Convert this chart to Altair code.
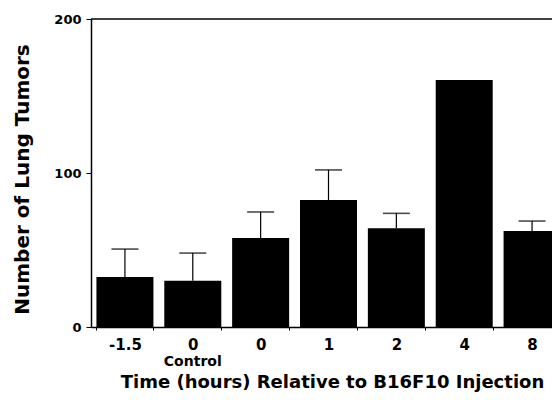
import altair as alt
import pandas as pd

# Data
categories = ["-1.5", "0 Control", "0", "1", "2", "4", "8"]
tick_labels = ["-1.5", "0", "0", "1", "2", "4", "8"]
means = [32.5, 30.0, 57.8, 82.5, 64.2, 160.4, 62.3]
uppers = [50.6, 48.0, 74.7, 102.0, 73.8, 160.4, 68.8]
sub_labels = ["", "Control", "", "", "", "", ""]
y_max = 200

df = pd.DataFrame({
    "cat": categories,
    "tick": tick_labels,
    "mean": means,
    "upper": uppers,
    "sub": sub_labels,
})

FONT = "DejaVu Sans"

x_scale = alt.Scale(paddingInner=0.16, paddingOuter=0.08, range=[0, 475])

x_enc = alt.X(
    "cat:N",
    sort=categories,
    scale=x_scale,
    axis=alt.Axis(
        title="Time (hours) Relative to B16F10 Injection",
        labelExpr="split(datum.label, ' ')[0]",
        labelAngle=0,
        labelFont=FONT,
        labelFontWeight="bold",
        labelFontSize=15,
        labelColor="black",
        labelBaseline="alphabetic",
        labelPadding=19,
        tickBand="extent",
        tickSize=3,
        tickColor="black",
        domainColor="black",
        domainWidth=1.5,
        titleFont=FONT,
        titleFontWeight="bold",
        titleFontSize=18,
        titleColor="black",
        titleBaseline="alphabetic",
        titleX=241,
        titleY=60,
    ),
)

y_scale = alt.Scale(domain=[0, y_max], nice=False)

bars = alt.Chart(df).mark_bar(color="black").encode(
    x=x_enc,
    y=alt.Y(
        "mean:Q",
        scale=y_scale,
        axis=alt.Axis(
            title="Number of Lung Tumors",
            values=[0, 100, 200],
            grid=False,
            labelFont=FONT,
            labelFontWeight="bold",
            labelFontSize=13,
            labelColor="black",
            labelPadding=5,
            tickSize=5,
            tickColor="black",
            domainColor="black",
            domainWidth=1.5,
            titleFont=FONT,
            titleFontWeight="bold",
            titleFontSize=20,
            titleColor="black",
            titleBaseline="alphabetic",
            titleAngle=-90,
            titleX=-63,
            titleY=160,
        ),
    ),
)

err_base = alt.Chart(df).transform_filter("datum.upper > datum.mean")

stems = err_base.mark_rule(color="black", strokeWidth=1.2).encode(
    x=alt.X("cat:N", sort=categories, scale=x_scale),
    y=alt.Y("mean:Q", scale=y_scale),
    y2="upper:Q",
)

caps = err_base.mark_tick(color="black", thickness=1.6, size=27).encode(
    x=alt.X("cat:N", sort=categories, scale=x_scale),
    y=alt.Y("upper:Q", scale=y_scale),
)

top_line = alt.Chart(pd.DataFrame({"v": [y_max]})).mark_rule(
    color="black", strokeWidth=1.5
).encode(y=alt.Y("v:Q", scale=y_scale))

sub_text = alt.Chart(df).transform_filter("datum.sub != ''").mark_text(
    font=FONT, fontWeight="bold", fontSize=14, color="black", baseline="alphabetic"
).encode(
    x=alt.X("cat:N", sort=categories, scale=x_scale),
    y=alt.value(347),
    text="sub:N",
)

chart = alt.layer(bars, stems, caps, top_line, sub_text).properties(
    width=461,
    height=308,
    autosize=alt.AutoSizeParams(type="none"),
    padding={"left": 83, "top": 11, "right": 0, "bottom": 65},
    background="white",
).configure_view(stroke="transparent")

chart.save("out.html", embed_options={"renderer": "svg", "actions": False})
